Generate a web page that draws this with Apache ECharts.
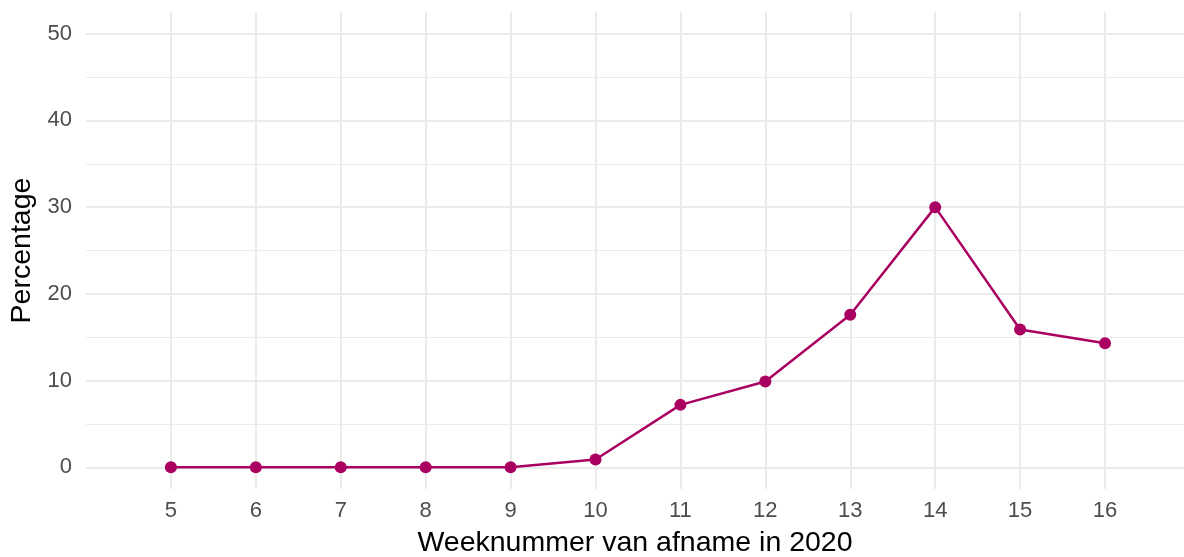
<!DOCTYPE html>
<html>
<head>
<meta charset="utf-8">
<script src="https://cdn.jsdelivr.net/npm/echarts@6/dist/echarts.min.js"></script>
<style>
  html, body { margin: 0; padding: 0; background: #fff; }
  #chart { width: 1184px; height: 557px; }
</style>
</head>
<body>
<div id="chart"></div>
<script>
// week numbers and percentage per week
const weeks = [5, 6, 7, 8, 9, 10, 11, 12, 13, 14, 15, 16]
const percentage = [0, 0, 0, 0, 0, 0.9, 7.2, 9.9, 17.6, 30.0, 15.9, 14.3]
const yMajor = [0, 10, 20, 30, 40, 50]
const yMinor = [5, 15, 25, 35, 45]

const chart = echarts.init(document.getElementById('chart'))
const font = 'Liberation Sans, Arial, sans-serif'
const gridColor = '#ebebeb'

const option = {
  animation: false,
  grid: { left: 86, right: 0, top: 12, bottom: 68, containLabel: false, outerBoundsMode: 'none' },
  xAxis: {
    type: 'value',
    min: 4,
    max: 16.93,
    name: 'Weeknummer van afname in 2020',
    nameLocation: 'middle',
    nameGap: 40,
    nameTextStyle: { color: '#000', fontSize: 28.5, fontFamily: font },
    axisLine: { show: false },
    axisTick: { show: false, customValues: weeks },
    axisLabel: { customValues: weeks, color: '#4d4d4d', fontSize: 22, fontFamily: font, margin: 11 },
    splitLine: { show: true, lineStyle: { color: gridColor, width: 2 } },
  },
  yAxis: [
    {
      type: 'value',
      min: -2.5,
      max: 52.5,
      name: 'Percentage',
      nameLocation: 'middle',
      nameGap: 48,
      nameRotate: 90,
      nameTextStyle: { color: '#000', fontSize: 28.5, fontFamily: font },
      axisLine: { show: false },
      axisTick: { show: false, customValues: yMajor },
      axisLabel: { customValues: yMajor, color: '#4d4d4d', fontSize: 22, fontFamily: font, margin: 14 },
      splitLine: { show: true, lineStyle: { color: gridColor, width: 2 } },
    },
    {
      type: 'value',
      min: -2.5,
      max: 52.5,
      position: 'left',
      axisLine: { show: false },
      axisTick: { show: false, customValues: yMinor },
      axisLabel: { show: false, customValues: yMinor },
      splitLine: { show: true, lineStyle: { color: gridColor, width: 1 } },
    },
  ],
  series: [
    {
      type: 'line',
      data: weeks.map((w, i) => [w, percentage[i]]),
      symbol: 'circle',
      symbolSize: 12,
      itemStyle: { color: '#A90061' },
      lineStyle: { color: '#A90061', width: 2.5 },
      z: 5,
    },
  ],
}

chart.setOption(option)
</script>
</body>
</html>
